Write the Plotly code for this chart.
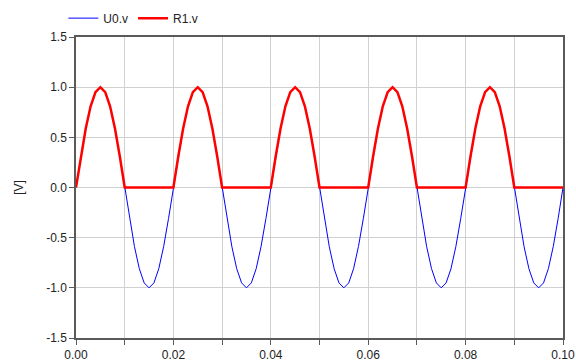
import plotly.graph_objects as go

time_s = [
    0.000, 0.001, 0.002, 0.003, 0.004, 0.005, 0.006, 0.007, 0.008, 0.009,
    0.010, 0.011, 0.012, 0.013, 0.014, 0.015, 0.016, 0.017, 0.018, 0.019,
    0.020, 0.021, 0.022, 0.023, 0.024, 0.025, 0.026, 0.027, 0.028, 0.029,
    0.030, 0.031, 0.032, 0.033, 0.034, 0.035, 0.036, 0.037, 0.038, 0.039,
    0.040, 0.041, 0.042, 0.043, 0.044, 0.045, 0.046, 0.047, 0.048, 0.049,
    0.050, 0.051, 0.052, 0.053, 0.054, 0.055, 0.056, 0.057, 0.058, 0.059,
    0.060, 0.061, 0.062, 0.063, 0.064, 0.065, 0.066, 0.067, 0.068, 0.069,
    0.070, 0.071, 0.072, 0.073, 0.074, 0.075, 0.076, 0.077, 0.078, 0.079,
    0.080, 0.081, 0.082, 0.083, 0.084, 0.085, 0.086, 0.087, 0.088, 0.089,
    0.090, 0.091, 0.092, 0.093, 0.094, 0.095, 0.096, 0.097, 0.098, 0.099,
    0.100,
]

u0_v = [
    0.000, 0.309, 0.588, 0.809, 0.951, 1.000, 0.951, 0.809, 0.588, 0.309,
    0.000, -0.309, -0.588, -0.809, -0.951, -1.000, -0.951, -0.809, -0.588, -0.309,
    0.000, 0.309, 0.588, 0.809, 0.951, 1.000, 0.951, 0.809, 0.588, 0.309,
    0.000, -0.309, -0.588, -0.809, -0.951, -1.000, -0.951, -0.809, -0.588, -0.309,
    0.000, 0.309, 0.588, 0.809, 0.951, 1.000, 0.951, 0.809, 0.588, 0.309,
    0.000, -0.309, -0.588, -0.809, -0.951, -1.000, -0.951, -0.809, -0.588, -0.309,
    0.000, 0.309, 0.588, 0.809, 0.951, 1.000, 0.951, 0.809, 0.588, 0.309,
    0.000, -0.309, -0.588, -0.809, -0.951, -1.000, -0.951, -0.809, -0.588, -0.309,
    0.000, 0.309, 0.588, 0.809, 0.951, 1.000, 0.951, 0.809, 0.588, 0.309,
    0.000, -0.309, -0.588, -0.809, -0.951, -1.000, -0.951, -0.809, -0.588, -0.309,
    0.000,
]

r1_v = [
    0.000, 0.309, 0.588, 0.809, 0.951, 1.000, 0.951, 0.809, 0.588, 0.309,
    0.000, 0.000, 0.000, 0.000, 0.000, 0.000, 0.000, 0.000, 0.000, 0.000,
    0.000, 0.309, 0.588, 0.809, 0.951, 1.000, 0.951, 0.809, 0.588, 0.309,
    0.000, 0.000, 0.000, 0.000, 0.000, 0.000, 0.000, 0.000, 0.000, 0.000,
    0.000, 0.309, 0.588, 0.809, 0.951, 1.000, 0.951, 0.809, 0.588, 0.309,
    0.000, 0.000, 0.000, 0.000, 0.000, 0.000, 0.000, 0.000, 0.000, 0.000,
    0.000, 0.309, 0.588, 0.809, 0.951, 1.000, 0.951, 0.809, 0.588, 0.309,
    0.000, 0.000, 0.000, 0.000, 0.000, 0.000, 0.000, 0.000, 0.000, 0.000,
    0.000, 0.309, 0.588, 0.809, 0.951, 1.000, 0.951, 0.809, 0.588, 0.309,
    0.000, 0.000, 0.000, 0.000, 0.000, 0.000, 0.000, 0.000, 0.000, 0.000,
    0.000,
]

x_ticks = [0.00, 0.01, 0.02, 0.03, 0.04, 0.05, 0.06, 0.07, 0.08, 0.09, 0.10]
x_tick_labels = ["0.00", "", "0.02", "", "0.04", "", "0.06", "", "0.08", "", "0.10"]
y_ticks = [-1.5, -1.0, -0.5, 0.0, 0.5, 1.0, 1.5]
y_tick_labels = ["-1.5", "-1.0", "-0.5", "0.0", "0.5", "1.0", "1.5"]

fig = go.Figure()
fig.add_trace(go.Scatter(x=time_s, y=u0_v, mode="lines", name="U0.v",
                         line=dict(color="#0000ff", width=1)))
fig.add_trace(go.Scatter(x=time_s, y=r1_v, mode="lines", name="R1.v",
                         line=dict(color="#ff0000", width=2.5)))

axis_common = dict(
    showgrid=True, gridcolor="#d0d0d0", gridwidth=1,
    showline=True, linecolor="#5a5a5a", linewidth=1.5, mirror=True,
    ticks="outside", ticklen=5, tickcolor="#5a5a5a", tickwidth=1,
    zeroline=False,
    tickfont=dict(family="Liberation Sans, Arial, sans-serif", size=12, color="#222222"),
)

fig.update_layout(
    width=576, height=364,
    margin=dict(l=76, r=13, t=37, b=26, autoexpand=False),
    paper_bgcolor="white", plot_bgcolor="white",
    font=dict(family="Liberation Sans, Arial, sans-serif", size=12, color="#222222"),
    showlegend=True,
    legend=dict(orientation="h", x=0.11, y=0.99, xref="container", yref="container",
                xanchor="left", yanchor="top",
                font=dict(size=12), bgcolor="rgba(0,0,0,0)",
                tracegroupgap=0),
    xaxis=dict(range=[0.0, 0.1], tickvals=x_ticks, ticktext=x_tick_labels, **axis_common),
    yaxis=dict(range=[-1.5, 1.5], tickvals=y_ticks, ticktext=y_tick_labels,
               title=dict(text="[V]", standoff=20, font=dict(size=12)), **axis_common),
)

fig.write_html("out.html",
               config={"displayModeBar": False},
               post_script="document.body.style.margin='0';document.body.style.overflow='hidden';")
